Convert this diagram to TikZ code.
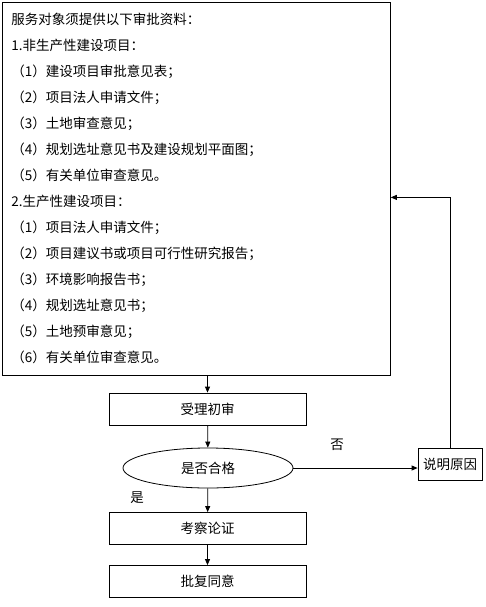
\documentclass[tikz,border=0pt]{standalone}
\usepackage{fontspec}
\setmainfont{Noto Sans CJK SC}
\usetikzlibrary{arrows.meta,positioning,shapes.geometric}

\begin{document}
\begin{tikzpicture}[x=1pt,y=-1pt,
  box/.style={draw, line width=0.8pt, minimum width=197pt, minimum height=32pt,
              inner sep=0pt, font=\fontsize{13.5}{15}\selectfont},
  arrow/.style={-{Triangle[length=6pt,width=5pt]},line width=0.8pt},
  lbl/.style={font=\fontsize{13.5}{15}\selectfont, inner sep=0pt}
]
\useasboundingbox (0,0) rectangle (486,607);
\node[draw, line width=0.8pt, anchor=north west, minimum width=388pt, minimum height=373pt,
      text width=370pt, inner xsep=9pt, align=left,
      font=\fontsize{13.5}{26}\selectfont] (materials) at (2,2)
  {服务对象须提供以下审批资料：\\
   1.非生产性建设项目：\\
   （1）建设项目审批意见表；\\
   （2）项目法人申请文件；\\
   （3）土地审查意见；\\
   （4）规划选址意见书及建设规划平面图；\\
   （5）有关单位审查意见。\\
   2.生产性建设项目：\\
   （1）项目法人申请文件；\\
   （2）项目建议书或项目可行性研究报告；\\
   （3）环境影响报告书；\\
   （4）规划选址意见书；\\
   （5）土地预审意见；\\
   （6）有关单位审查意见。};
\node[box] (accept) at (207.5,409) {受理初审};
\node[box, ellipse, minimum width=170pt, minimum height=40pt] (check) at (208,468) {是否合格\hspace{12pt}};
\node[box] (study) at (207.5,528.5) {考察论证};
\node[box] (approve) at (207.5,581.5) {批复同意};
\node[box, minimum width=64pt] (reason) at (450,464) {说明原因};
\node[lbl] (no) at (337,445) {否};
\node[lbl] (yes) at (137,498) {是};
% main flow
\draw[arrow] (materials.south -| accept.north) -- (accept);
\draw[arrow] (accept) -- (check);
\draw[arrow] (check) -- (study);
\draw[arrow] (study) -- (approve);
% rejected: back to materials
\draw[arrow] (check.east) -- (check.east -| reason.west);
\draw[arrow] (reason.north) |- ([yshift=-8.5pt]materials.east);
\end{tikzpicture}
\end{document}
